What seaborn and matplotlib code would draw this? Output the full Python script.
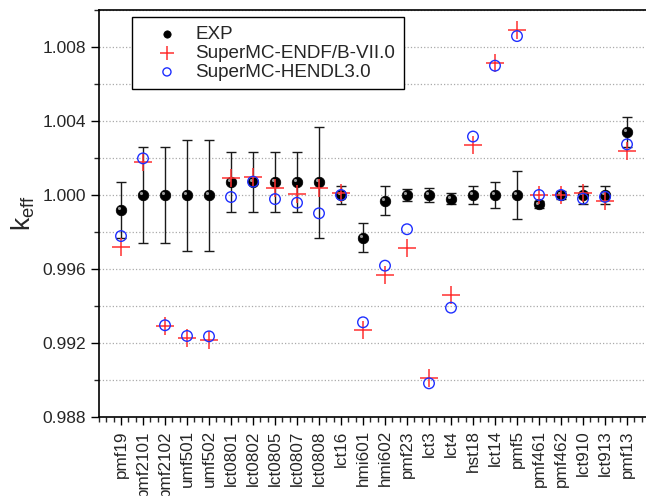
import numpy as np
import pandas as pd
import matplotlib
matplotlib.use("Agg")
import matplotlib.pyplot as plt
import matplotlib.transforms as mtransforms
import seaborn as sns
from matplotlib.ticker import MultipleLocator

# benchmark cases
cases = ["pmf19", "pmf2101", "pmf2102", "umf501", "umf502", "lct0801", "lct0802",
         "lct0805", "lct0807", "lct0808", "lct16", "hmi601", "hmi602", "pmf23",
         "lct3", "lct4", "hst18", "lct14", "pmf5", "pmf461", "pmf462", "lct910",
         "lct913", "pmf13"]

exp_keff = [0.9992, 1.0000, 1.0000, 1.0000, 1.0000, 1.0007, 1.0007, 1.0007, 1.0007,
            1.0007, 1.0000, 0.9977, 0.9997, 1.0000, 1.0000, 0.9998, 1.0000, 1.0000,
            1.0000, 0.9995, 1.0000, 1.0000, 1.0000, 1.0034]
exp_err = [0.0015, 0.0026, 0.0026, 0.0030, 0.0030, 0.0016, 0.0016, 0.0016, 0.0016,
           0.0030, 0.0005, 0.0008, 0.0008, 0.0003, 0.0004, 0.0003, 0.0005, 0.0007,
           0.0013, 0.0002, 0.0002, 0.0005, 0.0005, 0.0008]

endf_keff = [0.99719, 1.00180, 0.99292, 0.99229, 0.99217, 1.00090, 1.00099, 1.00039,
             1.00004, 1.00039, 1.00010, 0.99270, 0.99568, 0.99715, 0.99012, 0.99459,
             1.00270, 1.00715, 1.00892, 1.00000, 1.00000, 1.00010, 0.99970, 1.00238]
hendl_keff = [0.99778, 1.00198, 0.99296, 0.99238, 0.99236, 0.99989, 1.00072, 0.99978,
              0.99958, 0.99901, 1.00000, 0.99312, 0.99618, 0.99815, 0.98982, 0.99391,
              1.00316, 1.00699, 1.00859, 1.00000, 1.00000, 0.99980, 0.99990, 1.00274]

df = pd.DataFrame({"case": cases, "EXP": exp_keff, "err": exp_err,
                   "ENDF": endf_keff, "HENDL": hendl_keff})

sns.set_style("ticks")
plt.rcParams["font.family"] = ["Liberation Sans", "DejaVu Sans"]
plt.rcParams["mathtext.default"] = "regular"

fig = plt.figure(figsize=(6.46, 4.96), dpi=100)
ax = fig.add_axes([99 / 646, 79 / 496, 550 / 646, 407 / 496])

ax.errorbar(df["case"], df["EXP"], yerr=df["err"], fmt="none", ecolor="#1a1a1a",
            elinewidth=1.0, capsize=3.5, capthick=1.0, zorder=2)
sns.scatterplot(data=df, x="case", y="EXP", ax=ax, color="black", marker="o",
                s=58, edgecolor="black", linewidth=0.5, label="EXP", zorder=3)
# little highlight so the black dots look like spheres
hl = mtransforms.offset_copy(ax.transData, fig=fig, x=-1.2, y=1.2, units="points")
ax.scatter(df["case"], df["EXP"], s=5, color="#9a9a9a", linewidth=0,
           transform=hl, zorder=3.5)
sns.scatterplot(data=df, x="case", y="ENDF", ax=ax, color="#ff3030", marker="+",
                s=150, linewidth=1.1, label="SuperMC-ENDF/B-VII.0", zorder=4)
sns.scatterplot(data=df, x="case", y="HENDL", ax=ax, facecolor="none",
                edgecolor="#1f2fff", marker="o", s=58, linewidth=1.0,
                label="SuperMC-HENDL3.0", zorder=5)

ax.set_xlim(-1, 24)
ax.set_ylim(0.988, 1.010)
yt = [0.988, 0.992, 0.996, 1.000, 1.004, 1.008]
ax.set_yticks(yt)
ax.set_yticklabels([f"{v:.3f}" for v in yt])
ax.yaxis.set_minor_locator(MultipleLocator(0.002))
ax.xaxis.set_minor_locator(MultipleLocator(1 / 3))
ax.set_xticks(range(len(cases)))
ax.set_xticklabels(cases, rotation=90)

ax.grid(axis="y", which="both", color="#aaaaaa", linestyle=":", linewidth=0.9)
ax.set_axisbelow(True)

ax.tick_params(axis="both", which="major", direction="out", length=6, width=1,
               labelsize=12.5, color="black")
ax.tick_params(axis="both", which="minor", direction="out", length=3.5, width=1)
ax.tick_params(axis="x", labelsize=12.3)
for s in ax.spines.values():
    s.set_linewidth(1.2)
    s.set_color("black")

ax.set_xlabel("")
ax.set_ylabel(r"$k_{eff}$", fontsize=19, labelpad=4)

leg = ax.legend(loc="upper left", bbox_to_anchor=(0.06, 0.983), borderaxespad=0,
                fontsize=13.6, frameon=True, fancybox=False, handletextpad=0.1,
                borderpad=0.45, labelspacing=0.1, handlelength=2.8)
leg.get_frame().set_edgecolor("black")
leg.get_frame().set_linewidth(1.0)
leg.get_frame().set_alpha(1)
for h, sz in zip(leg.legend_handles, [28, 90, 34]):
    h.set_sizes([sz])

fig.savefig("out.png", dpi=100)
